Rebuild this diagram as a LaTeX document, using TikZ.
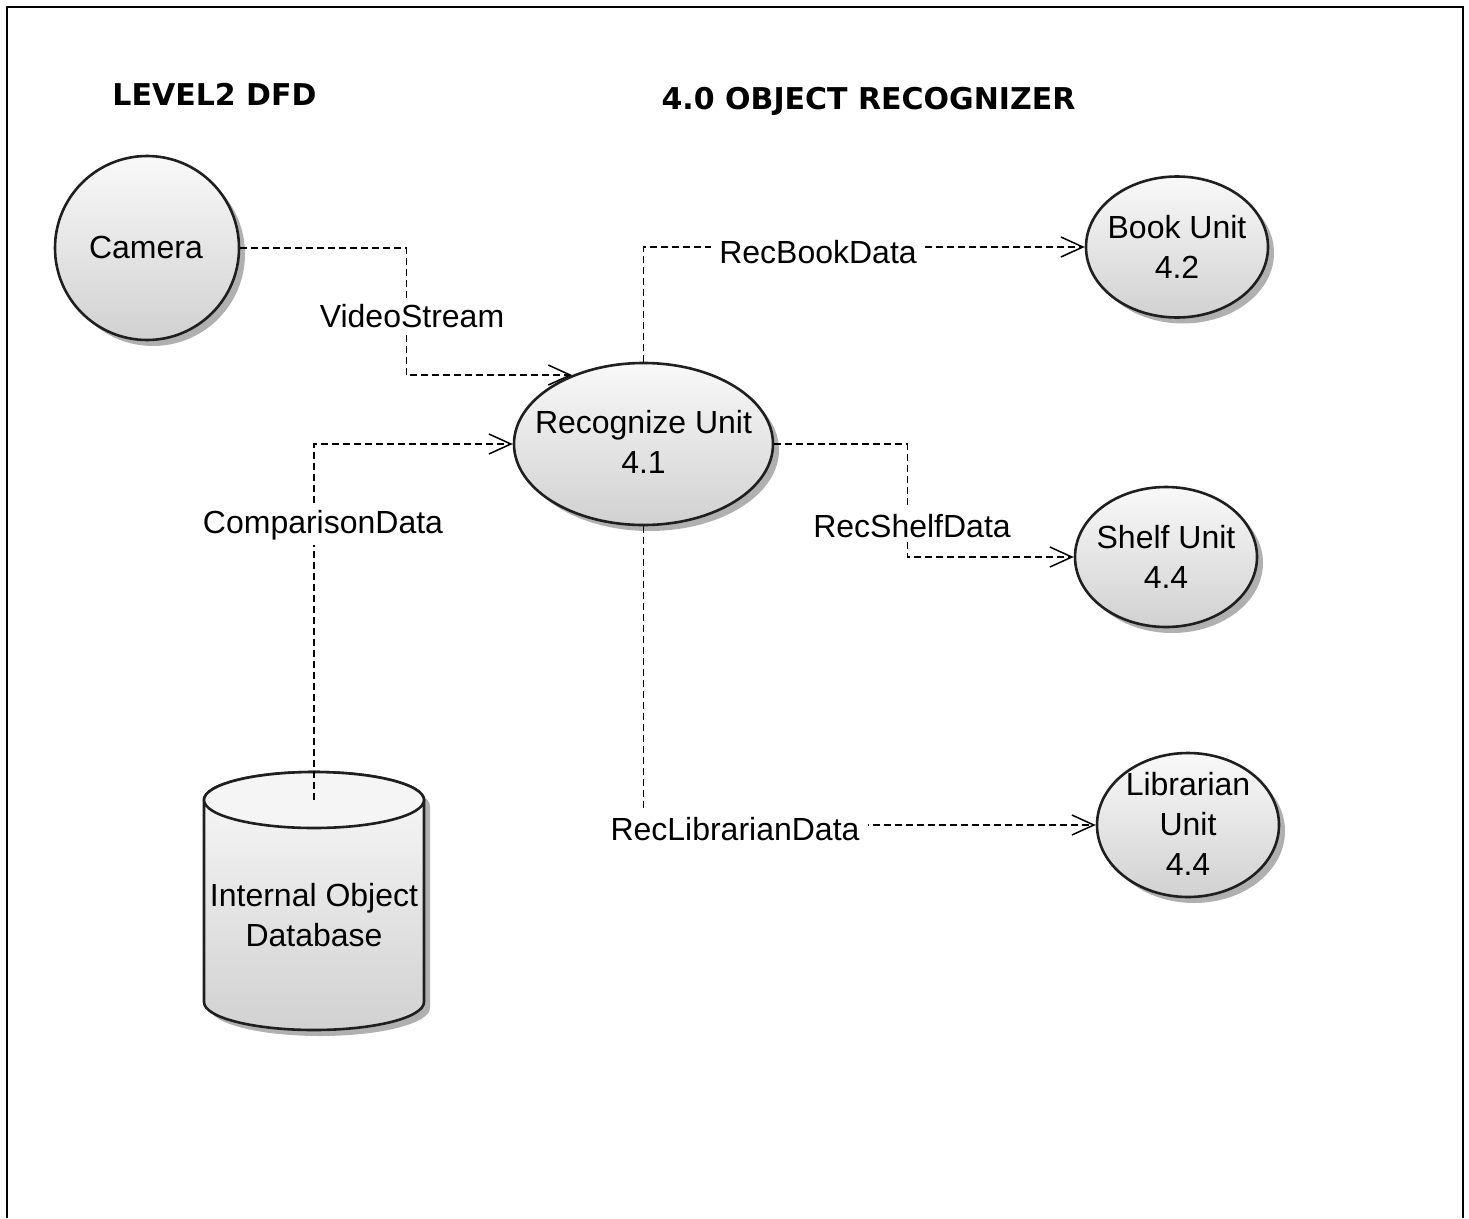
\documentclass[tikz,border=0pt]{standalone}
\usepackage{fontspec}
\setmainfont{Liberation Sans}
\newfontfamily\titlefont{DejaVu Sans}
\usetikzlibrary{shapes.geometric,arrows.meta,shadows}

\tikzset{
  bubble/.style={draw=black!88, line width=2.6pt, top color=gray!5, bottom color=gray!36,
    inner sep=0pt, drop shadow={shadow xshift=6pt, shadow yshift=-6pt, fill=gray!62, opacity=1}},
  lbl/.style={font=\fontsize{32}{40}\selectfont, align=center, inner sep=0pt},
  flowlabel/.style={fill=white, font=\fontsize{32}{40}\selectfont, inner xsep=8pt, inner ysep=5pt, anchor=base},
  flow/.style={line width=1.5pt, dash pattern=on 7pt off 4pt,
    -{Straight Barb[length=22pt,width=20pt,line width=1.5pt]}},
  heading/.style={font=\titlefont\bfseries\fontsize{30}{36}\selectfont, anchor=base},
  storebody/.style={draw=black!88, line width=2.6pt, top color=gray!5, bottom color=gray!36},
}

\begin{document}
\begin{tikzpicture}[x=1pt,y=-1pt]
\useasboundingbox (0,0) rectangle (1469,1218);
% page frame
\draw[line width=2pt] (7,1218) -- (7,7) -- (1463,7) -- (1463,1218);

% headings
\node[heading] (lvl) at (214.5,105) {LEVEL2 DFD};
\node[heading] (ttl) at (868.5,109) {4.0 OBJECT RECOGNIZER};

% processes and external entity
\node[bubble, circle, minimum size=184pt] (cam) at (147,248) {};
\node[bubble, ellipse, minimum width=259pt, minimum height=162pt] (rec) at (643.5,444) {};
\node[bubble, ellipse, minimum width=182pt, minimum height=141pt] (book) at (1177,247) {};
\node[bubble, ellipse, minimum width=182pt, minimum height=140pt] (shelf) at (1166,557) {};
\node[bubble, ellipse, minimum width=182pt, minimum height=144pt] (lib) at (1188,825) {};

% data store drawn as a cylinder
\begin{scope}[shift={(6,6)}]
  \fill[gray!62] (204,800) -- (204,1002) arc[start angle=180,end angle=0,x radius=110,y radius=28]
    -- (424,800) arc[start angle=0,end angle=-180,x radius=110,y radius=28] -- cycle;
\end{scope}
\path[storebody] (204,800) -- (204,1002) arc[start angle=180,end angle=0,x radius=110,y radius=28]
    -- (424,800) arc[start angle=0,end angle=-180,x radius=110,y radius=28] -- cycle;
\draw[line width=2.6pt, draw=black!88, fill=gray!8] (314,800) ellipse[x radius=110, y radius=28];
\coordinate (db-top) at (314,800);

% texts inside the shapes
\node[lbl] (cam-t) at (146,247) {Camera};
\node[lbl] (rec-t) at (643.5,442) {Recognize Unit\\4.1};
\node[lbl] (book-t) at (1177,247) {Book Unit\\4.2};
\node[lbl] (shelf-t) at (1166,557) {Shelf Unit\\4.4};
\node[lbl] (lib-t) at (1188,824) {Librarian\\Unit\\4.4};
\node[lbl] (db) at (314,915) {Internal Object\\Database};

% data flows
\draw[flow] (cam.east) -- ++(166,0) |- (rec.136);
\draw[flow] (db-top) |- (rec.west);
\draw[flow] (rec.north) |- (book.west);
\draw[flow] (rec.east) -- ++(133,0) |- (shelf.west);
\draw[flow] (rec.south) |- (lib.west);

% flow labels
\node[flowlabel] (vs) at (412,327) {VideoStream};
\node[flowlabel] (cd) at (323,533) {ComparisonData};
\node[flowlabel] (rb) at (818,263) {RecBookData};
\node[flowlabel] (rs) at (912,537) {RecShelfData};
\node[flowlabel] (rl) at (735,840) {RecLibrarianData};
\end{tikzpicture}
\end{document}
